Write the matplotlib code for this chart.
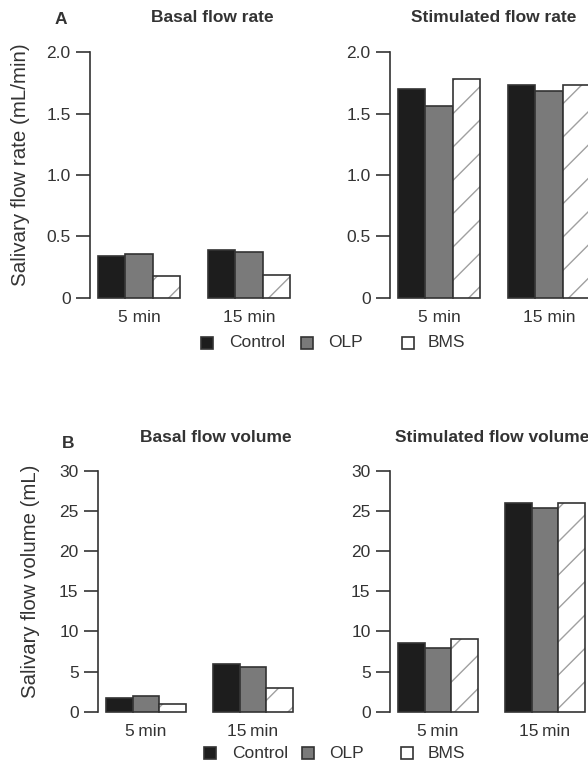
import matplotlib
import numpy as np
from matplotlib import pyplot as plt
from matplotlib.patches import Rectangle

matplotlib.use("Agg")

plt.rcParams["font.family"] = ["Liberation Sans", "DejaVu Sans"]
plt.rcParams["hatch.linewidth"] = 1.0

# データ
groups = ["5 min", "15 min"]
groups_b = ["5\u2009min", "15\u2009min"]
series = ["Control", "OLP", "BMS"]
basal_rate = [[0.34, 0.36, 0.18], [0.39, 0.37, 0.19]]
stim_rate = [[1.70, 1.56, 1.78], [1.73, 1.68, 1.73]]
basal_vol = [[1.7, 1.9, 1.0], [5.9, 5.6, 3.0]]
stim_vol = [[8.6, 7.9, 9.0], [26.0, 25.4, 26.0]]
rate_ticks = [0, 0.5, 1.0, 1.5, 2.0]
rate_ticklabels = ["0", "0.5", "1.0", "1.5", "2.0"]
vol_ticks = [0, 5, 10, 15, 20, 25, 30]

fills = ["#1d1d1d", "#7a7a7a", "white"]
edge = "#333333"
txt = "#333333"

W, H = 588, 765
fig = plt.figure(figsize=(W / 100, H / 100), dpi=100)


def px_axes(left, right, top, bottom):
    return fig.add_axes([left / W, 1 - bottom / H, (right - left) / W, (bottom - top) / H])


def draw_panel(ax, values, ticks, ticklabels, xlabels, xpad):
    for gi, vals in enumerate(values):
        for si, v in enumerate(vals):
            x = 1 + gi * 4 + si
            if series[si] == "BMS":
                ax.bar(x, v, width=1, align="edge", color="white", hatch="/",
                       edgecolor="#a0a0a0", linewidth=0, clip_on=False)
                ax.bar(x, v, width=1, align="edge", fill=False,
                       edgecolor=edge, linewidth=1.2, clip_on=False)
            else:
                ax.bar(x, v, width=1, align="edge", color=fills[si],
                       edgecolor=edge, linewidth=1.2, clip_on=False)
    ax.set_xlim(0.71, 8.29)
    ax.set_ylim(ticks[0], ticks[-1])
    for s in ["top", "right", "bottom"]:
        ax.spines[s].set_visible(False)
    ax.spines["left"].set_color(edge)
    ax.spines["left"].set_linewidth(1.2)
    ax.set_yticks(ticks)
    ax.set_yticklabels(ticklabels)
    ax.set_xticks([2.5, 6.5])
    ax.set_xticklabels(xlabels)
    ax.tick_params(axis="y", length=10, width=1.2, color=edge, pad=4,
                   labelsize=12.5, labelcolor=txt)
    ax.tick_params(axis="x", length=0, pad=xpad, labelsize=12.5, labelcolor=txt)
    ax.patch.set_alpha(0)


# パネルA
ax1 = px_axes(90, 298, 52, 298)
draw_panel(ax1, basal_rate, rate_ticks, rate_ticklabels, groups, 9)
ax2 = px_axes(390, 598, 52, 298)
draw_panel(ax2, stim_rate, rate_ticks, rate_ticklabels, groups, 9)

# パネルB
ax3 = px_axes(98, 301, 471, 711.7)
draw_panel(ax3, basal_vol, vol_ticks, [str(t) for t in vol_ticks], groups_b, 8.5)
ax4 = px_axes(390, 593, 471, 711.7)
draw_panel(ax4, stim_vol, vol_ticks, [str(t) for t in vol_ticks], groups_b, 8.5)


def ftext(x, y, s, **kw):
    fig.text(x / W, 1 - y / H, s, color=txt, **kw)


ftext(61, 20, "A", fontsize=12.5, fontweight="bold", ha="center", va="center")
ftext(212, 17, "Basal flow rate", fontsize=12.5, fontweight="bold", ha="center", va="center")
ftext(494, 17, "Stimulated flow rate", fontsize=12.5, fontweight="bold", ha="center", va="center")
ftext(68, 443, "B", fontsize=12.5, fontweight="bold", ha="center", va="center")
ftext(216, 437, "Basal flow volume", fontsize=12.5, fontweight="bold", ha="center", va="center")
ftext(492, 437, "Stimulated flow volume", fontsize=12.5, fontweight="bold", ha="center", va="center")

ftext(21, 165, "Salivary flow rate (mL/min)", fontsize=14.8, rotation=90, ha="center", va="center")
ftext(31, 581, "Salivary flow volume (mL)", fontsize=14.7, rotation=90, ha="center", va="center")


# 凡例
def legend_row(y, sq_x, txt_x):
    for si, name in enumerate(series):
        fig.patches.append(Rectangle(((sq_x[si] - 6) / W, 1 - (y + 6) / H), 12 / W, 12 / H,
                                     transform=fig.transFigure, facecolor=fills[si],
                                     edgecolor=edge, linewidth=1.2))
        ftext(txt_x[si], y, name, fontsize=12.5, ha="left", va="center")


legend_row(343, [207, 307, 408], [229, 328, 428])
legend_row(753, [210, 308, 407], [232, 329, 428])

fig.savefig("out.png", dpi=100)
